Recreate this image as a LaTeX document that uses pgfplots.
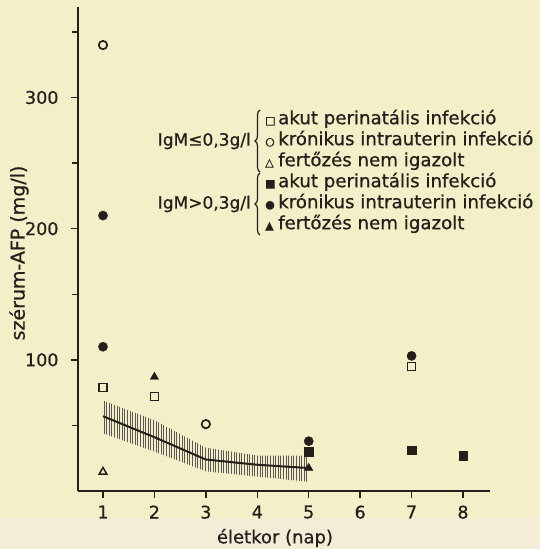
\documentclass[border=0pt]{standalone}
\usepackage{fontspec}
\setmainfont{DejaVu Sans}[FakeBold=0.7]
\usepackage{pgfplots}
\pgfplotsset{compat=1.18}
\usetikzlibrary{patterns.meta,decorations.pathreplacing}
\definecolor{paper}{HTML}{F3EFC9}
\definecolor{paperlow}{HTML}{F3EDD8}
\definecolor{ink}{HTML}{241F1B}
\newcommand{\sym}[1]{\makebox[13pt][l]{\fontsize{11}{11}\selectfont #1}}
\begin{document}
\begin{tikzpicture}[x=1pt,y=1pt]
\fill[paper] (0,0) rectangle (540,549);
\fill[paperlow] (0,0) rectangle (540,31);
\useasboundingbox (0,0) rectangle (540,549);
\begin{axis}[at={(78pt,58pt)}, anchor=south west, scale only axis,
  width=412pt, height=484pt,
  xmin=0.514, xmax=8.525, ymin=0, ymax=369,
  axis x line*=bottom, axis y line*=left,
  axis line style={ink, line width=1.5pt, -},
  xtick={1,...,8}, ytick={100,200,300}, minor ytick={50,150,250,350},
  tick align=outside, major tick length=7pt, minor tick length=6pt,
  every tick/.style={ink, line width=1.5pt},
  tick label style={font=\fontsize{17.5}{19}\selectfont, text=ink},
  yticklabel style={xshift=-9pt},
  xticklabel style={yshift=-4pt},
  /pgf/number format/assume math mode=true,
  clip=false]
% hatched band (SD range)
\addplot[draw=none, pattern={Lines[angle=90,distance=2.6pt,line width=0.7pt]}, pattern color=ink!75]
  coordinates {(1,69)(2,54)(3,33)(4,27)(5,27)(5,7)(4,11)(3,15)(2,30)(1,44)};
% mean line
\addplot[ink, line width=2pt] coordinates {(1,57)(2,41)(3,24)(4,20)(5,17.5)};
% IgM > 0,3 g/l : filled
\addplot[only marks, mark=*, mark size=4.6pt, mark options={draw=ink, fill=ink}]
  coordinates {(1,210)(1,110)(5,38)(7,103)};
\addplot[only marks, mark=square*, mark size=4.2pt, mark options={draw=ink, fill=ink}]
  coordinates {(5,30)(7,31)(8,27)};
\addplot[only marks, mark=triangle*, mark size=4.8pt, mark options={draw=ink, fill=ink}]
  coordinates {(2,87)(5,17.5)};
% IgM <= 0,3 g/l : open
\addplot[only marks, mark=square*, mark size=4pt, mark options={draw=ink, fill=paper, line width=1.7pt}]
  coordinates {(1,79)(2,72)(7,95)};
\addplot[only marks, mark=*, mark size=4.2pt, mark options={draw=ink, fill=paper, line width=1.7pt}]
  coordinates {(1,340)(3,51)};
\addplot[only marks, mark=triangle*, mark size=4.5pt, mark options={draw=ink, fill=paper, line width=1.5pt}]
  coordinates {(1,14.5)};
\end{axis}
% axis titles
\node[rotate=90, font=\fontsize{19}{20}\selectfont, text=ink] at (19,296) {szérum-AFP (mg/l)};
\node[font=\fontsize{18}{19}\selectfont, text=ink] at (275,11) {életkor (nap)};
% legend
\begin{scope}[every node/.style={text=ink, inner sep=0pt}]
\node[anchor=east, font=\fontsize{17}{20}\selectfont] at (251,408) {IgM≤0,3g/l};
\node[anchor=east, font=\fontsize{17}{20}\selectfont] at (251,345) {IgM>0,3g/l};
\draw[ink, line width=1.2pt, decorate, decoration={brace, amplitude=5pt}] (260,377) -- (260,439);
\draw[ink, line width=1.2pt, decorate, decoration={brace, amplitude=5pt}] (260,314) -- (260,376);
\node[anchor=west, font=\fontsize{18.2}{21}\selectfont] at (265,376.5) {\begin{tabular}{@{}l@{}}\sym{□}akut perinatális infekció\\ \sym{○}krónikus intrauterin infekció\\ \sym{△}fertőzés nem igazolt\\ \sym{■}akut perinatális infekció\\ \sym{●}krónikus intrauterin infekció\\ \sym{▲}fertőzés nem igazolt\end{tabular}};
\end{scope}
\end{tikzpicture}
\end{document}
